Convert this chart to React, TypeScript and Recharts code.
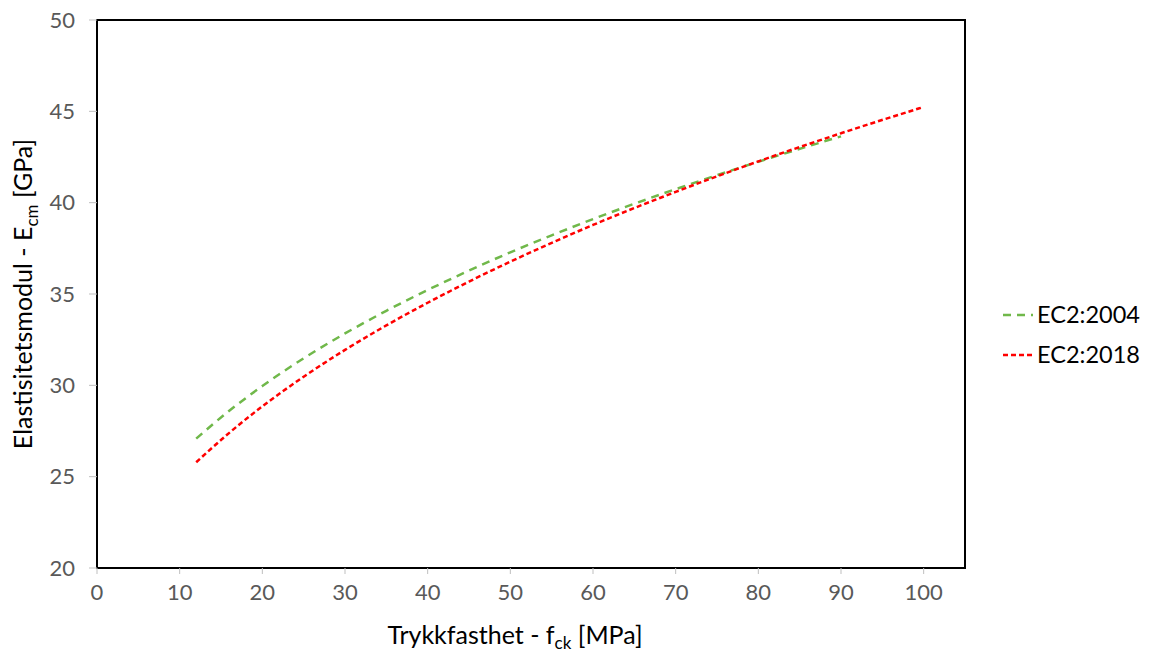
import { LineChart, Line, XAxis, YAxis, ReferenceArea } from "recharts";

// trykkfasthet fck [MPa]
const fck2004 = [12, 16, 20, 25, 30, 35, 40, 45, 50, 55, 60, 70, 80, 90];
const fck2018 = [12, 16, 20, 25, 30, 35, 40, 45, 50, 55, 60, 70, 80, 90, 100];

// Ecm [GPa] lest av figuren
const ecm2004 = [27.08, 28.61, 29.96, 31.48, 32.84, 34.08, 35.22, 36.28, 37.28, 38.21, 39.1, 40.74, 42.24, 43.63];
const ecm2018 = [25.79, 27.4, 28.85, 30.47, 31.94, 33.28, 34.52, 35.68, 36.77, 37.8, 38.78, 40.59, 42.26, 43.8, 45.24];

const xTicks = [0, 10, 20, 30, 40, 50, 60, 70, 80, 90, 100];
const yTicks = [20, 25, 30, 35, 40, 45, 50];

const data2004 = fck2004.map((f, i) => ({ fck: f, ecm: ecm2004[i] }));
const data2018 = fck2018.map((f, i) => ({ fck: f, ecm: ecm2018[i] }));

const FONT = "Lato, 'Open Sans', sans-serif";
const GREEN = "#70b84a";
const RED = "#ff0000";

const series = [
  { name: "EC2:2004", color: GREEN, dash: "8 6" },
  { name: "EC2:2018", color: RED, dash: "5 3" },
];

function LegendBox() {
  return (
    <g transform="translate(1003, 299)">
      {series.map((s, i) => (
        <g key={s.name} transform={`translate(0, ${i * 40})`}>
          <line x1={0} x2={30} y1={16} y2={16} stroke={s.color} strokeWidth={2.5} strokeDasharray={s.dash} />
          <text x={34} y={24} fontSize={23.5} fill="#000" fontFamily={FONT}>
            {s.name}
          </text>
        </g>
      ))}
    </g>
  );
}

function YLabel() {
  return (
    <text
      transform="translate(32, 294) rotate(-90)"
      textAnchor="middle"
      fontSize={25}
      fill="#000"
      fontFamily={FONT}
    >
      <tspan>Elastisitetsmodul - E</tspan>
      <tspan fontSize={17} dy={6}>cm</tspan>
      <tspan dy={-6}> [GPa]</tspan>
    </text>
  );
}

function XLabel() {
  return (
    <text x={515} y={644} textAnchor="middle" fontSize={25} fill="#000" fontFamily={FONT}>
      <tspan>Trykkfasthet - f</tspan>
      <tspan fontSize={17} dy={5}>ck</tspan>
      <tspan dy={-5}> [MPa]</tspan>
    </text>
  );
}

export default function App() {
  const tick = { fill: "#595959", fontSize: 22, fontFamily: FONT };
  return (
    <div style={{ position: "absolute", left: 0, top: 0, background: "#fff" }}>
      <LineChart width={1151} height={657} margin={{ top: 20, right: 186, bottom: 49, left: 37 }}>
        <XAxis
          dataKey="fck"
          type="number"
          domain={[0, 105]}
          ticks={xTicks}
          allowDuplicatedCategory={false}
          axisLine={{ stroke: "#000", strokeWidth: 2 }}
          tickLine={{ stroke: "#bfbfbf" }}
          tickSize={6}
          tickMargin={10}
          tick={tick}
          height={40}
        />
        <YAxis
          dataKey="ecm"
          type="number"
          domain={[20, 50]}
          ticks={yTicks}
          axisLine={{ stroke: "#000", strokeWidth: 2 }}
          tickLine={{ stroke: "#bfbfbf" }}
          tickSize={8}
          tickMargin={14}
          tick={tick}
          width={60}
        />
        <ReferenceArea x1={0} x2={105} y1={20} y2={50} fill="none" stroke="#000" strokeWidth={2} />
        <Line
          data={data2004}
          dataKey="ecm"
          name="EC2:2004"
          type="monotone"
          stroke={GREEN}
          strokeWidth={2.5}
          strokeDasharray="8 6"
          dot={false}
          isAnimationActive={false}
        />
        <Line
          data={data2018}
          dataKey="ecm"
          name="EC2:2018"
          type="monotone"
          stroke={RED}
          strokeWidth={2.5}
          strokeDasharray="5 3"
          dot={false}
          isAnimationActive={false}
        />
        <LegendBox />
        <YLabel />
        <XLabel />
      </LineChart>
    </div>
  );
}
